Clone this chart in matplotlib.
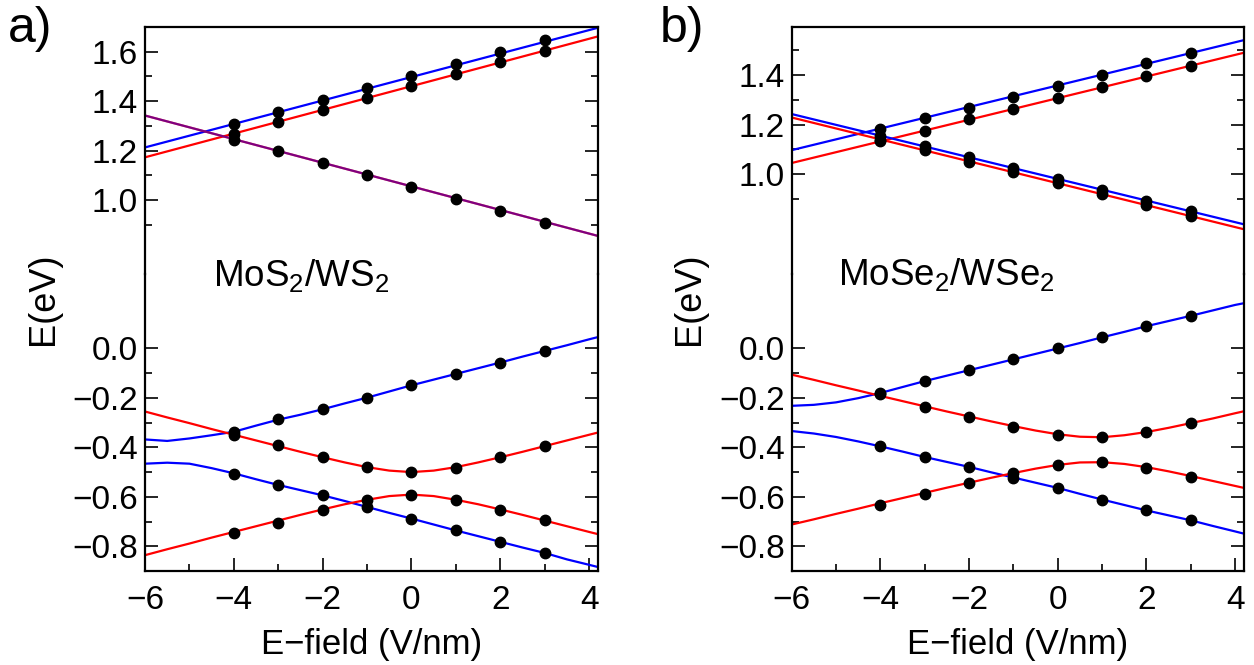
import matplotlib
matplotlib.use("Agg")
import matplotlib.pyplot as plt
from matplotlib.ticker import FixedLocator

plt.rcParams['font.family'] = ['Liberation Sans', 'DejaVu Sans']
plt.rcParams['mathtext.fontset'] = 'custom'
plt.rcParams['mathtext.rm'] = 'Liberation Sans'

# --- dane ---
# siatka pola E dla krzywych modelu i pola dla punktow obliczen
grid = [-6, -5.5, -5, -4.5, -4, -3.5, -3, -2.5, -2, -1.5, -1, -0.5,
        0, 0.5, 1, 1.5, 2, 2.5, 3, 3.5, 4, 4.2]
ends = [-6, 4.2]
field = [-4, -3, -2, -1, 0, 1, 2, 3]

# a) MoS2/WS2, pasmo przewodnictwa (proste)
a_cb_blue_line = [1.213, 1.697]
a_cb_red_line = [1.173, 1.662]
a_cb_mix_line = [1.342, 0.855]   # czerwona i niebieska pokrywaja sie
a_cb_blue_pts = [1.307, 1.356, 1.405, 1.453, 1.502, 1.551, 1.598, 1.648]
a_cb_red_pts = [1.268, 1.316, 1.365, 1.412, 1.462, 1.511, 1.558, 1.604]
a_cb_mix_pts = [1.245, 1.197, 1.149, 1.102, 1.054, 1.004, 0.957, 0.909]

# a) pasmo walencyjne
a_vb_blue1 = [-0.368, -0.374, -0.364, -0.351, -0.337, -0.312, -0.288, -0.268,
              -0.246, -0.222, -0.199, -0.174, -0.149, -0.126, -0.103, -0.080,
              -0.057, -0.033, -0.010, 0.013, 0.037, 0.046]
a_vb_blue2 = [-0.466, -0.462, -0.466, -0.484, -0.505, -0.529, -0.552, -0.573,
              -0.594, -0.617, -0.641, -0.665, -0.688, -0.712, -0.736, -0.759,
              -0.782, -0.805, -0.827, -0.853, -0.875, -0.884]
a_vb_red1 = [-0.255, -0.279, -0.302, -0.326, -0.349, -0.372, -0.395, -0.418,
             -0.440, -0.461, -0.480, -0.494, -0.500, -0.494, -0.480, -0.461,
             -0.440, -0.418, -0.395, -0.372, -0.349, -0.340]
a_vb_red2 = [-0.836, -0.812, -0.789, -0.765, -0.742, -0.719, -0.696, -0.673,
             -0.651, -0.630, -0.612, -0.597, -0.591, -0.597, -0.612, -0.630,
             -0.651, -0.673, -0.696, -0.719, -0.742, -0.751]
a_vb_blue1_pts = [-0.337, -0.287, -0.246, -0.199, -0.149, -0.104, -0.057, -0.010]
a_vb_blue2_pts = [-0.506, -0.553, -0.594, -0.641, -0.688, -0.736, -0.783, -0.827]
a_vb_red1_pts = [-0.348, -0.389, -0.439, -0.479, -0.500, -0.482, -0.439, -0.396]
a_vb_red2_pts = [-0.746, -0.706, -0.655, -0.611, -0.591, -0.611, -0.655, -0.695]

# b) MoSe2/WSe2, pasmo przewodnictwa (proste)
b_cb_blue_up = [1.097, 1.542]
b_cb_red_up = [1.045, 1.491]
b_cb_blue_down = [1.243, 0.797]
b_cb_red_down = [1.229, 0.777]
b_cb_blue_up_pts = [1.184, 1.227, 1.268, 1.313, 1.357, 1.402, 1.448, 1.491]
b_cb_red_up_pts = [1.132, 1.175, 1.221, 1.263, 1.309, 1.351, 1.396, 1.438]
b_cb_blue_down_pts = [1.156, 1.114, 1.070, 1.025, 0.979, 0.935, 0.890, 0.850]
b_cb_red_down_pts = [1.140, 1.097, 1.049, 1.009, 0.964, 0.919, 0.874, 0.830]

# b) pasmo walencyjne
b_vb_blue1 = [-0.232, -0.228, -0.218, -0.201, -0.180, -0.156, -0.132, -0.110,
              -0.088, -0.066, -0.044, -0.022, 0.000, 0.022, 0.045, 0.067,
              0.090, 0.111, 0.132, 0.154, 0.176, 0.183]
b_vb_blue2 = [-0.334, -0.344, -0.358, -0.376, -0.396, -0.417, -0.439, -0.459,
              -0.479, -0.501, -0.522, -0.543, -0.564, -0.588, -0.611, -0.633,
              -0.655, -0.675, -0.695, -0.718, -0.740, -0.749]
b_vb_red1 = [-0.106, -0.127, -0.149, -0.170, -0.192, -0.213, -0.234, -0.255,
             -0.275, -0.295, -0.314, -0.332, -0.347, -0.357, -0.359, -0.351,
             -0.338, -0.321, -0.302, -0.283, -0.262, -0.254]
b_vb_red2 = [-0.712, -0.691, -0.669, -0.648, -0.626, -0.605, -0.584, -0.563,
             -0.543, -0.523, -0.504, -0.486, -0.471, -0.461, -0.460, -0.467,
             -0.480, -0.497, -0.516, -0.536, -0.556, -0.564]
b_vb_blue1_pts = [-0.180, -0.131, -0.088, -0.043, 0.000, 0.045, 0.090, 0.132]
b_vb_blue2_pts = [-0.396, -0.439, -0.479, -0.522, -0.564, -0.611, -0.655, -0.695]
b_vb_red1_pts = [-0.186, -0.236, -0.277, -0.317, -0.348, -0.360, -0.338, -0.301]
b_vb_red2_pts = [-0.632, -0.590, -0.544, -0.504, -0.470, -0.460, -0.483, -0.520]

BLUE = '#0000ff'
RED = '#ff0000'
LW = 1.6
MS = 7.5
TICK_FS = 24

W, H = 1254, 665
fig = plt.figure(figsize=(W / 100, H / 100), dpi=100)


def make_axes(left_px, right_px, top_px, bottom_px, top_ylim):
    # dwie osie z przerwa w skali energii (bez zaznaczenia przerwy)
    low_ylim = (-0.9, 0.3)
    span = (low_ylim[1] - low_ylim[0]) + (top_ylim[1] - top_ylim[0])
    ppu = (bottom_px - top_px) / span
    h_low = (low_ylim[1] - low_ylim[0]) * ppu
    h_up = (top_ylim[1] - top_ylim[0]) * ppu
    w = right_px - left_px
    ax_lo = fig.add_axes([left_px / W, (H - bottom_px) / H, w / W, h_low / H])
    ax_up = fig.add_axes([left_px / W, (H - bottom_px + h_low) / H, w / W, h_up / H])
    for ax in (ax_lo, ax_up):
        ax.set_xlim(-6, 4.2)
        ax.patch.set_alpha(0)
        for s in ax.spines.values():
            s.set_linewidth(1.6)
        ax.tick_params(which='both', direction='in', left=True, right=True,
                       top=False, width=1.2, labelsize=TICK_FS, pad=5)
        ax.tick_params(which='major', length=9.5)
        ax.tick_params(which='minor', length=5)
    ax_lo.set_ylim(*low_ylim)
    ax_up.set_ylim(*top_ylim)
    ax_up.spines['bottom'].set_visible(False)
    ax_lo.spines['top'].set_visible(False)
    ax_up.tick_params(which='both', bottom=False, labelbottom=False)
    ax_lo.tick_params(axis='x', which='both', pad=10)
    ax_lo.set_xticks([-6, -4, -2, 0, 2, 4])
    ax_lo.xaxis.set_minor_locator(FixedLocator([-5, -3, -1, 1, 3]))
    ax_lo.set_yticks([-0.8, -0.6, -0.4, -0.2, 0.0])
    ax_lo.yaxis.set_minor_locator(FixedLocator([-0.7, -0.5, -0.3, -0.1]))
    ax_lo.set_xlabel("E\u2212field (V/nm)", fontsize=25, labelpad=9)
    return ax_up, ax_lo


def curve(ax, x, y, color, **kw):
    ax.plot(x, y, color=color, lw=LW, zorder=2, **kw)


def dots(ax, y):
    ax.plot(field, y, 'o', color='black', ms=MS, zorder=3)


# ---------- a) ----------
a_up, a_lo = make_axes(145, 598, 27, 571, (0.7, 1.7))
a_up.set_yticks([1.0, 1.2, 1.4, 1.6])
a_up.yaxis.set_minor_locator(FixedLocator([0.9, 1.1, 1.3, 1.5]))

curve(a_up, ends, a_cb_blue_line, BLUE)
curve(a_up, ends, a_cb_red_line, RED)
curve(a_up, ends, a_cb_mix_line, RED)
curve(a_up, ends, a_cb_mix_line, BLUE, alpha=0.5)
for p in (a_cb_blue_pts, a_cb_red_pts, a_cb_mix_pts):
    dots(a_up, p)

curve(a_lo, grid, a_vb_blue1, BLUE)
curve(a_lo, grid, a_vb_blue2, BLUE)
curve(a_lo, grid, a_vb_red1, RED)
curve(a_lo, grid, a_vb_red2, RED)
for p in (a_vb_blue1_pts, a_vb_blue2_pts, a_vb_red1_pts, a_vb_red2_pts):
    dots(a_lo, p)

# ---------- b) ----------
b_up, b_lo = make_axes(791.7, 1244, 27, 571, (0.595, 1.595))
b_up.set_yticks([1.0, 1.2, 1.4])
b_up.yaxis.set_minor_locator(FixedLocator([0.9, 1.1, 1.3, 1.5]))

curve(b_up, ends, b_cb_blue_up, BLUE)
curve(b_up, ends, b_cb_red_up, RED)
curve(b_up, ends, b_cb_blue_down, BLUE)
curve(b_up, ends, b_cb_red_down, RED)
for p in (b_cb_blue_up_pts, b_cb_red_up_pts, b_cb_blue_down_pts, b_cb_red_down_pts):
    dots(b_up, p)

curve(b_lo, grid, b_vb_blue1, BLUE)
curve(b_lo, grid, b_vb_blue2, BLUE)
curve(b_lo, grid, b_vb_red1, RED)
curve(b_lo, grid, b_vb_red2, RED)
for p in (b_vb_blue1_pts, b_vb_blue2_pts, b_vb_red1_pts, b_vb_red2_pts):
    dots(b_lo, p)

# napisy
fig.text(8 / W, 1 - 42 / H, "a)", fontsize=36, ha='left', va='baseline')
fig.text(660 / W, 1 - 42 / H, "b)", fontsize=36, ha='left', va='baseline')
fig.text(44 / W, 1 - 299 / H, "E(eV)", fontsize=26, rotation=90, ha='center', va='center')
fig.text(689 / W, 1 - 299 / H, "E(eV)", fontsize=26, rotation=90, ha='center', va='center')
fig.text(213 / W, 1 - 287 / H, r"MoS$_\mathrm{2}$/WS$_\mathrm{2}$", fontsize=26.5,
         ha='left', va='baseline')
fig.text(838 / W, 1 - 286 / H, r"MoSe$_\mathrm{2}$/WSe$_\mathrm{2}$", fontsize=26.5,
         ha='left', va='baseline')

fig.savefig("out.png", dpi=100)
